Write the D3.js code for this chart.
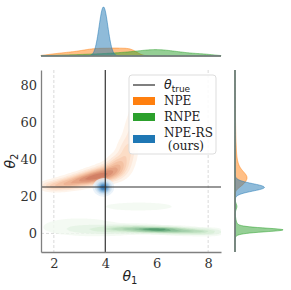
<!DOCTYPE html>
<html>
<head>
<meta charset="utf-8">
<script src="https://cdn.jsdelivr.net/npm/d3@7"></script>
<style>
body { margin: 0; background: #fff; }
svg { display: block; }
text { font-family: "DejaVu Serif", serif; }
</style>
</head>
<body>
<svg id="drawing_region"></svg>
<script>
// values
var methods = ["NPE", "RNPE", "NPE-RS"];
var legendLabels = [["NPE"], ["RNPE"], ["NPE-RS", " (ours)"]];
var thetaTrue = [4, 25];
var priorTheta1 = [2, 8];
var priorTheta2 = [0];
var xTicks = [2, 4, 6, 8];
var yTicks = [0, 20, 40, 60, 80];

// posterior pieces: [theta1, theta2, sd1, sd2, weight]
var npeParts = [
    [2.0, 25.5, 0.35, 1.7, 0.06],
    [2.6, 27.0, 0.35, 1.9, 0.10],
    [3.2, 29.0, 0.35, 2.0, 0.15],
    [3.7, 31.0, 0.33, 2.2, 0.17],
    [4.15, 33.0, 0.30, 2.6, 0.14],
    [4.5, 36.5, 0.25, 3.4, 0.11],
    [4.8, 43.0, 0.22, 5.0, 0.08],
    [5.0, 52.0, 0.20, 7.0, 0.06],
    [5.2, 66.0, 0.20, 8.0, 0.04]
];
var rnpeParts = [
    [6.0, 2.0, 0.60, 0.8, 0.26],
    [5.0, 2.6, 0.70, 1.0, 0.14],
    [7.0, 1.2, 0.60, 0.9, 0.14],
    [7.9, 0.7, 0.40, 1.0, 0.04],
    [4.0, 1.8, 0.90, 1.5, 0.09],
    [3.0, 4.0, 1.00, 3.0, 0.08],
    [5.3, 14.5, 1.00, 1.6, 0.04]
];
var npeRsParts = [
    [3.93, 24.8, 0.17, 2.0, 1.0]
];

var parts = [npeParts, rnpeParts, npeRsParts];
var lineColors = ["#ff7f0e", "#2ca02c", "#1f77b4"];
var ramps = [
    d3.interpolateRgbBasis(["#fef1e6", "#f9c29c", "#cf7c62"]),
    d3.interpolateRgbBasis(["#f1f9f0", "#bfe3bd", "#4f9a6a"]),
    d3.interpolateRgbBasis(["#e6f0f9", "#8dbce0", "#2a6fb0"])
];

var W = 291, H = 290;
var plot = {left: 41, top: 70, right: 221, bottom: 252};

function gauss(t, m, s) {
    var z = (t - m) / s;
    return Math.exp(-0.5 * z * z) / (s * Math.sqrt(2 * Math.PI));
}
function dens2(p, a, b) {
    var tw = d3.sum(p, d => d[4]);
    return d3.sum(p, d => d[4] * gauss(a, d[0], d[2]) * gauss(b, d[1], d[3])) / tw;
}
function dens1(p, t, k) {
    var tw = d3.sum(p, d => d[4]);
    return d3.sum(p, d => d[4] * gauss(t, d[k], d[k + 2])) / tw;
}
function isoLevels(values, props) {
    var sorted = values.slice().sort(d3.ascending);
    var total = d3.sum(sorted);
    var cum = 0, k = 0, out = [];
    props.forEach(p => {
        while (k < sorted.length - 1 && cum + sorted[k] < p * total) { cum += sorted[k]; k++; }
        out.push(sorted[k]);
    });
    return out;
}

var svg = d3.select('#drawing_region').attr('width', W).attr('height', H);

var xscale = d3.scaleLinear().domain([1.5, 8.5]).range([plot.left, plot.right]);
var yscale = d3.scaleLinear().domain([-10, 88]).range([plot.bottom, plot.top]);

svg.append('clipPath').attr('id', 'clip')
    .append('rect')
    .attr('x', plot.left).attr('y', plot.top)
    .attr('width', plot.right - plot.left).attr('height', plot.bottom - plot.top);

// prior bounds
var grid = svg.append('g').attr('stroke', '#d0d0d0').attr('stroke-width', 0.8).attr('stroke-dasharray', '3,2');
grid.selectAll('.gx').data(priorTheta1).join('line')
    .attr('x1', d => xscale(d)).attr('x2', d => xscale(d))
    .attr('y1', plot.top).attr('y2', plot.bottom);
grid.selectAll('.gy').data(priorTheta2).join('line')
    .attr('y1', d => yscale(d)).attr('y2', d => yscale(d))
    .attr('x1', plot.left).attr('x2', plot.right);

// joint densities
var cell = 2;
var nx = Math.ceil((plot.right - plot.left) / cell);
var ny = Math.ceil((plot.bottom - plot.top) / cell);
var props = d3.range(9).map(i => 0.05 + i * 0.95 / 9);
var path = d3.geoPath(d3.geoIdentity().scale(cell));
var joint = svg.append('g').attr('clip-path', 'url(#clip)')
    .append('g').attr('transform', `translate(${plot.left},${plot.top})`);

parts.forEach((p, m) => {
    var values = new Array(nx * ny);
    for (var j = 0; j < ny; j++) {
        for (var i = 0; i < nx; i++) {
            var a = xscale.invert(plot.left + (i + 0.5) * cell);
            var b = yscale.invert(plot.top + (j + 0.5) * cell);
            values[i + j * nx] = dens2(p, a, b);
        }
    }
    var th = isoLevels(values, props);
    var cs = d3.contours().size([nx, ny]).thresholds(th)(values);
    joint.append('g').selectAll('path').data(cs).join('path')
        .attr('d', path)
        .attr('fill', (d, k) => ramps[m](k / (cs.length - 1)))
        .attr('fill-opacity', 0.8);
});

// true parameter
svg.append('g').attr('clip-path', 'url(#clip)').attr('stroke', '#333').attr('stroke-width', 1.2)
    .call(g => g.append('line')
        .attr('x1', xscale(thetaTrue[0])).attr('x2', xscale(thetaTrue[0]))
        .attr('y1', plot.top).attr('y2', plot.bottom))
    .call(g => g.append('line')
        .attr('y1', yscale(thetaTrue[1])).attr('y2', yscale(thetaTrue[1]))
        .attr('x1', plot.left).attr('x2', plot.right));

// axes
var xaxis = d3.axisBottom(xscale).tickValues(xTicks).tickFormat(d3.format('d')).tickSize(0).tickPadding(7);
var yaxis = d3.axisLeft(yscale).tickValues(yTicks).tickFormat(d3.format('d')).tickSize(0).tickPadding(4);
svg.append('g').attr('transform', `translate(0,${plot.bottom})`).call(xaxis)
    .call(g => g.select('.domain').attr('stroke', '#808080').attr('stroke-width', 1.3))
    .call(g => g.selectAll('text').attr('font-size', 13).attr('fill', '#333'));
svg.append('g').attr('transform', `translate(${plot.left},0)`).call(yaxis)
    .call(g => g.select('.domain').attr('stroke', '#808080').attr('stroke-width', 1.3))
    .call(g => g.selectAll('text').attr('font-size', 13).attr('fill', '#333'));

// axis labels
svg.append('text').attr('x', 130).attr('y', 281).attr('text-anchor', 'middle')
    .attr('font-size', 14).attr('fill', '#222')
    .style('font-family', 'DejaVu Sans')
    .call(t => t.append('tspan').attr('font-style', 'italic').text('θ'))
    .call(t => t.append('tspan').attr('font-size', 10).attr('dy', 3).text('1'));
svg.append('text').attr('transform', 'translate(15,161) rotate(-90)').attr('text-anchor', 'middle')
    .attr('font-size', 14).attr('fill', '#222')
    .style('font-family', 'DejaVu Sans')
    .call(t => t.append('tspan').attr('font-style', 'italic').text('θ'))
    .call(t => t.append('tspan').attr('font-size', 10).attr('dy', 3).text('2'));

// top marginal
var topBase = 56, topPeak = 7;
var t1 = d3.range(1.5, 8.5001, 0.02);
var topCurves = parts.map(p => t1.map(t => [t, dens1(p, t, 0)]));
var topY = d3.scaleLinear().domain([0, d3.max(topCurves, s => d3.max(s, d => d[1]))]).range([topBase, topPeak]);
var topArea = d3.area().x(d => xscale(d[0])).y0(topBase).y1(d => topY(d[1]));
svg.append('g').selectAll('path').data(topCurves).join('path')
    .attr('d', topArea)
    .attr('fill', (d, i) => lineColors[i]).attr('fill-opacity', 0.5)
    .attr('stroke', (d, i) => lineColors[i]).attr('stroke-opacity', 0.5).attr('stroke-width', 1);
svg.append('line').attr('x1', plot.left).attr('x2', plot.right).attr('y1', topBase).attr('y2', topBase)
    .attr('stroke', '#808080').attr('stroke-width', 1.3);

// right marginal
var rightBase = 235, rightPeak = 283;
var t2 = d3.range(-10, 88.001, 0.2);
var rightCurves = parts.map(p => t2.map(t => [t, dens1(p, t, 1)]));
var rightX = d3.scaleLinear().domain([0, d3.max(rightCurves, s => d3.max(s, d => d[1]))]).range([rightBase, rightPeak]);
var rightArea = d3.area().y(d => yscale(d[0])).x0(rightBase).x1(d => rightX(d[1]));
svg.append('g').selectAll('path').data(rightCurves).join('path')
    .attr('d', rightArea)
    .attr('fill', (d, i) => lineColors[i]).attr('fill-opacity', 0.5)
    .attr('stroke', (d, i) => lineColors[i]).attr('stroke-opacity', 0.5).attr('stroke-width', 1);
svg.append('line').attr('x1', rightBase).attr('x2', rightBase).attr('y1', plot.top).attr('y2', plot.bottom)
    .attr('stroke', '#808080').attr('stroke-width', 1.3);

// legend
var legend = svg.append('g').attr('transform', 'translate(129,75)');
legend.append('rect').attr('width', 87).attr('height', 79).attr('rx', 3)
    .attr('fill', '#fff').attr('fill-opacity', 0.85).attr('stroke', '#ddd');
legend.append('line').attr('x1', 4).attr('x2', 26).attr('y1', 10).attr('y2', 10)
    .attr('stroke', '#555').attr('stroke-width', 1.5);
legend.append('text').attr('x', 35).attr('y', 14).attr('font-size', 12.5).attr('fill', '#222')
    .style('font-family', 'DejaVu Sans')
    .call(t => t.append('tspan').attr('font-style', 'italic').text('θ'))
    .call(t => t.append('tspan').attr('font-size', 9).attr('dy', 3).text('true'));
var rowY = [26, 42, 64];
legend.selectAll('.patch').data(methods).join('rect')
    .attr('x', 4).attr('y', (d, i) => rowY[i] - 4).attr('width', 22).attr('height', 8)
    .attr('fill', (d, i) => lineColors[i]);
legend.selectAll('.lab').data(legendLabels).join('text')
    .attr('x', 35).attr('y', (d, i) => rowY[i] + 4 - (d.length - 1) * 6.5)
    .attr('font-size', 12).attr('fill', '#222')
    .each(function(d) {
        d3.select(this).selectAll('tspan').data(d).join('tspan')
            .attr('x', 35).attr('dy', (s, k) => k ? 13 : 0)
            .style('white-space', 'pre').text(s => s);
    });
</script>
</body>
</html>
